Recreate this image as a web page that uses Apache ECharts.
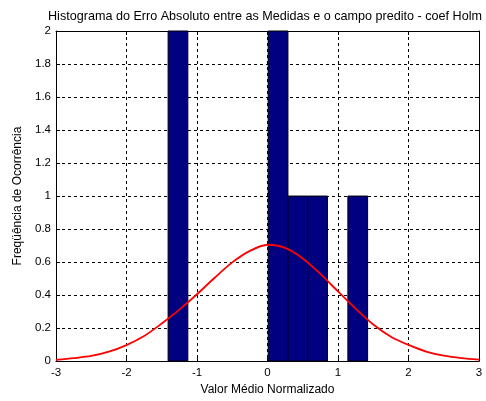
<!DOCTYPE html>
<html>
<head>
<meta charset="utf-8">
<script src="https://cdn.jsdelivr.net/npm/echarts@6/dist/echarts.min.js"></script>
<style>
  html, body { margin: 0; padding: 0; background: #fff; }
  #chart { width: 486px; height: 401px; }
</style>
</head>
<body>
<div id="chart"></div>
<script>
// Histogram bins: left edge, right edge, count
const binLeft  = [-1.41, 0.01, 0.29, 0.57, 1.14];
const binRight = [-1.13, 0.29, 0.57, 0.85, 1.42];
const binCount = [2, 2, 1, 1, 1];

// Fitted curve samples
const curveX = [-3, -2.75, -2.5, -2.25, -2, -1.75, -1.5, -1.25, -1, -0.75, -0.5, -0.25, 0,
                0.25, 0.5, 0.75, 1, 1.25, 1.5, 1.75, 2, 2.25, 2.5, 2.75, 3];
const curveY = [0.008, 0.018, 0.031, 0.057, 0.097, 0.152, 0.228, 0.312, 0.405, 0.505, 0.598, 0.668, 0.705,
                0.686, 0.622, 0.528, 0.422, 0.318, 0.222, 0.148, 0.098, 0.058, 0.033, 0.018, 0.009];

// Axis ticks
const xTicks = [-3, -2, -1, 0, 1, 2, 3];
const yTicks = [0, 0.2, 0.4, 0.6, 0.8, 1, 1.2, 1.4, 1.6, 1.8, 2];

const font = 'Liberation Sans, Arial, sans-serif';

const chart = echarts.init(document.getElementById('chart'), null, { renderer: 'canvas' });

const bars = binLeft.map((l, i) => [l, binRight[i], binCount[i]]);
const curve = curveX.map((x, i) => [x, curveY[i]]);

const tickInside = { show: true, inside: true, length: 4, lineStyle: { color: '#000', width: 1 } };
const dashed = { show: true, lineStyle: { color: '#000', type: [3, 3], width: 1 } };

chart.setOption({
  animation: false,
  backgroundColor: '#fff',
  title: {
    text: 'Histograma do Erro Absoluto entre as Medidas e o campo predito - coef Holm',
    left: 48, top: 10, padding: 0,
    textStyle: { fontFamily: font, fontSize: 12.6, fontWeight: 'normal', color: '#000' }
  },
  grid: { left: 56, right: 7, top: 31, bottom: 37, show: false },
  xAxis: [{
    type: 'value', min: xTicks[0], max: xTicks[xTicks.length - 1], interval: 1,
    name: 'Valor Médio Normalizado', nameLocation: 'middle', nameGap: 20,
    nameTextStyle: { fontFamily: font, fontSize: 12, color: '#000' },
    axisLine: { show: true, onZero: false, lineStyle: { color: '#000' } },
    axisTick: tickInside,
    axisLabel: { fontFamily: font, fontSize: 11.5, color: '#000', margin: 6 },
    splitLine: dashed
  }, {
    type: 'value', position: 'top', min: xTicks[0], max: xTicks[xTicks.length - 1], interval: 1,
    axisLine: { show: true, onZero: false, lineStyle: { color: '#000' } },
    axisTick: tickInside, axisLabel: { show: false }, splitLine: { show: false }
  }],
  yAxis: [{
    type: 'value', min: yTicks[0], max: yTicks[yTicks.length - 1], interval: 0.2,
    name: 'Freqüência de Ocorrência', nameLocation: 'middle', nameGap: 30,
    nameTextStyle: { fontFamily: font, fontSize: 12, color: '#000' },
    axisLine: { show: true, onZero: false, lineStyle: { color: '#000' } },
    axisTick: tickInside,
    axisLabel: { fontFamily: font, fontSize: 11.5, color: '#000', margin: 5 },
    splitLine: dashed
  }, {
    type: 'value', position: 'right', min: yTicks[0], max: yTicks[yTicks.length - 1], interval: 0.2,
    axisLine: { show: true, onZero: false, lineStyle: { color: '#000' } },
    axisTick: tickInside, axisLabel: { show: false }, splitLine: { show: false }
  }],
  series: [{
    type: 'custom',
    xAxisIndex: 0, yAxisIndex: 0,
    data: bars,
    encode: { x: [0, 1], y: 2 },
    renderItem: function (params, api) {
      const p0 = api.coord([api.value(0), api.value(2)]);
      const p1 = api.coord([api.value(1), 0]);
      return {
        type: 'rect',
        shape: { x: p0[0], y: p0[1], width: p1[0] - p0[0], height: p1[1] - p0[1] },
        style: { fill: '#000080', stroke: '#000', lineWidth: 1 }
      };
    },
    z: 2
  }, {
    type: 'line',
    xAxisIndex: 0, yAxisIndex: 0,
    data: curve,
    showSymbol: false,
    smooth: 0.3,
    lineStyle: { color: '#ff0000', width: 1.8 },
    z: 3
  }]
});
</script>
</body>
</html>
